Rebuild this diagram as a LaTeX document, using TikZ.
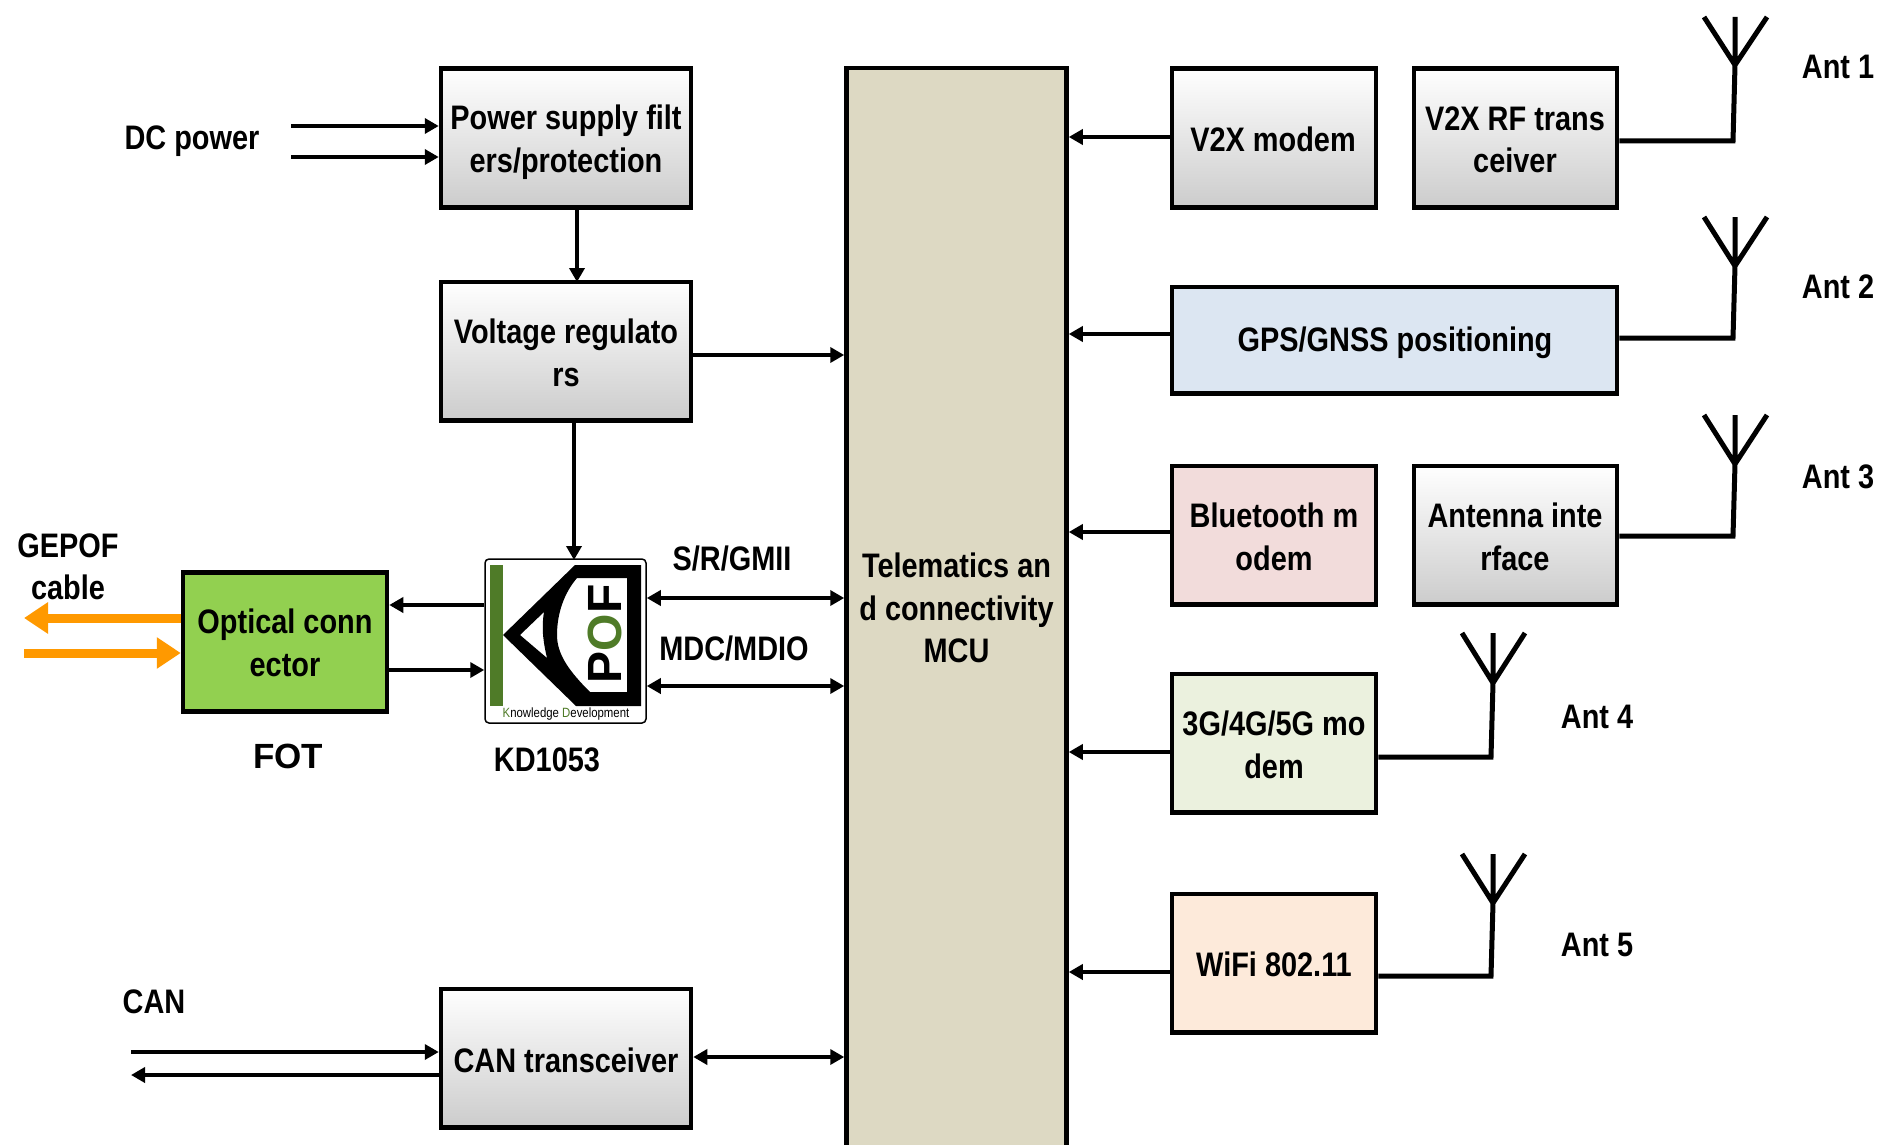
\documentclass[tikz,border=0pt]{standalone}
\usepackage{fontspec}
\setmainfont[FakeStretch=0.85]{Liberation Sans}
\newfontfamily\wide{Liberation Sans}
\usetikzlibrary{arrows.meta}
\definecolor{mcuc}{HTML}{DDD9C3}
\definecolor{gpsc}{HTML}{DCE6F2}
\definecolor{btc}{HTML}{F2DCDB}
\definecolor{cellc}{HTML}{EBF1DE}
\definecolor{wifc}{HTML}{FDEADA}
\definecolor{optc}{HTML}{92D050}
\definecolor{orangec}{HTML}{FF9900}
\definecolor{logog}{HTML}{4F7B28}
\tikzset{
  x=1pt,y=-1pt,
  txt/.style={font=\fontsize{34}{42.5}\selectfont\bfseries,align=center,inner sep=0pt},
  blk/.style={draw=black,line width=4.5pt,minimum width=#1,inner sep=0pt,txt},
  gbox/.style={blk=#1,top color=white,bottom color=black!20},
  conn/.style={line width=4.2pt,-{Triangle[length=14pt,width=15pt]}},
  dconn/.style={line width=4.2pt,{Triangle[length=14pt,width=15pt]}-{Triangle[length=14pt,width=15pt]}},
  ant/.style={line width=5pt},
  optic/.style={line width=9pt,orangec,-{Triangle[length=24pt,width=30pt]}},
}
\begin{document}
\begin{tikzpicture}
\clip (0,0) rectangle (1880,1145);
\fill[white] (0,0) rectangle (1880,1145);
% boxes
\node[gbox=250pt,minimum height=138.5pt] (pw) at (566,138) {};
\node[gbox=250pt,minimum height=138.5pt] (vr) at (566,351) {};
\node[gbox=250pt,minimum height=138.5pt] (can) at (566,1058) {};
\node[blk=220pt,minimum height=1080pt,fill=mcuc] (mcu) at (956.5,608) {Telematics an\\d connectivity\\MCU};
\node[gbox=204pt,minimum height=138.5pt] (v2x) at (1274,138) {};
\node[gbox=203pt,minimum height=138.5pt] (rf) at (1515.5,138) {};
\node[blk=445pt,minimum height=106.5pt,fill=gpsc] (gps) at (1394.5,340) {};
\node[blk=204pt,minimum height=138.5pt,fill=btc] (bt) at (1274,535) {};
\node[gbox=203pt,minimum height=138.5pt] (ai) at (1515.5,535) {};
\node[blk=204pt,minimum height=138.5pt,fill=cellc] (cell) at (1274,743) {};
\node[blk=204pt,minimum height=138.5pt,fill=wifc] (wifi) at (1274,963) {};
\node[blk=204pt,minimum height=139pt,fill=optc] (opt) at (285,642) {};
% box texts
\node[txt] (pwt) at (566,142) {Power supply filt\\ers/protection};
\node[txt] (vrt) at (566,353) {Voltage regulato\\rs};
\node[txt] (cant) at (566,1060) {CAN transceiver};
\node[txt] (v2xt) at (1273,139) {V2X modem};
\node[txt] (rft) at (1515,140) {V2X RF trans\\ceiver};
\node[txt] (gpst) at (1395,343) {GPS/GNSS positioning};
\node[txt] (btt) at (1274,537) {Bluetooth m\\odem};
\node[txt] (ait) at (1515,537) {Antenna inte\\rface};
\node[txt] (cellt) at (1274,745) {3G/4G/5G mo\\dem};
\node[txt] (wifit) at (1274,964) {WiFi 802.11};
\node[txt] (optt) at (285,643) {Optical conn\\ector};
% KD logo
\node[draw=black,line width=1.5pt,rounded corners=4pt,fill=white,minimum width=161pt,minimum height=164pt,inner sep=0pt] (kd) at (565.5,641) {};
\fill[logog] (490,565) rectangle (503,706);
\fill[black,even odd rule] (503,635) -- (575,565) -- (641,565) -- (641,706) -- (576,706) -- cycle
  (520,635) -- (544,612) .. controls (541,630) and (544,645) .. (547,658) -- cycle
  (577,578) -- (627,578) -- (627,692) -- (590,692) .. controls (570,672) and (557,655) .. (557,635) .. controls (557,612) and (565,592) .. (577,578) -- cycle;
\node[rotate=90,inner sep=0pt,font=\wide\fontsize{48}{50}\selectfont\bfseries] (pof) at (605,634) {P\textcolor{logog}{O}F};
\node[inner sep=0pt,font=\fontsize{13.4}{16}\selectfont] (kdt) at (566,714) {\textcolor{logog}{K}nowledge \textcolor{logog}{D}evelopment};
% labels
\node[txt] (dc) at (192,141) {DC power};
\node[txt,align=center] (gep) at (68,567) {GEPOF\\cable};
\node[inner sep=0pt,font=\wide\fontsize{35}{36}\selectfont\bfseries] (fot) at (288,756) {FOT};
\node[txt] (kdn) at (547,760) {KD1053};
\node[txt] (sr) at (732,559) {S/R/GMII};
\node[txt] (mdc) at (734,649) {MDC/MDIO};
\node[txt] (canl) at (154,1002) {CAN};
\node[txt] (a1) at (1838,67) {Ant 1};
\node[txt] (a2) at (1838,287) {Ant 2};
\node[txt] (a3) at (1838,477) {Ant 3};
\node[txt] (a4) at (1597,717) {Ant 4};
\node[txt] (a5) at (1597,945) {Ant 5};
% free ends
\coordinate (dc1) at (291,126);
\coordinate (dc2) at (291,157);
\coordinate (can1) at (131,1052);
\coordinate (can2) at (131,1075);
\coordinate (o1) at (24,618);
\coordinate (o2) at (24,653);
% connectors
\draw[conn] (dc1) -- (dc1 -| pw.west);
\draw[conn] (dc2) -- (dc2 -| pw.west);
\draw[conn] (577,207) -- (577,282);
\draw[conn] (vr.east |- 0,355) -- (mcu.west |- 0,355);
\draw[conn] (574,421) -- (574,560);
\draw[conn] (kd.west |- 0,605) -- (opt.east |- 0,605);
\draw[conn] (opt.east |- 0,670) -- (kd.west |- 0,670);
\draw[dconn] (kd.east |- 0,598) -- (mcu.west |- 0,598);
\draw[dconn] (kd.east |- 0,686) -- (mcu.west |- 0,686);
\draw[dconn] (can.east |- 0,1057) -- (mcu.west |- 0,1057);
\draw[conn] (can1) -- (can1 -| can.west);
\draw[conn] (can2 -| can.west) -- (can2);
\draw[optic] (opt.west |- o1) -- (o1);
\draw[optic] (o2) -- (opt.west |- o2);
\draw[conn] (v2x.west |- 0,137) -- (mcu.east |- 0,137);
\draw[conn] (gps.west |- 0,334) -- (mcu.east |- 0,334);
\draw[conn] (bt.west |- 0,532) -- (mcu.east |- 0,532);
\draw[conn] (cell.west |- 0,752) -- (mcu.east |- 0,752);
\draw[conn] (wifi.west |- 0,972) -- (mcu.east |- 0,972);
% antennas
\draw[ant] (rf.east |- 0,141) -- (1733,141) -- (1735,65) -- (1735,17) (1704,17) -- (1735,65) -- (1767,17);
\draw[ant] (gps.east |- 0,338) -- (1733,338) -- (1735,266) -- (1735,217) (1704,217) -- (1735,266) -- (1767,217);
\draw[ant] (ai.east |- 0,536) -- (1733,536) -- (1735,464) -- (1735,415) (1704,415) -- (1735,464) -- (1767,415);
\draw[ant] (cell.east |- 0,757) -- (1491,757) -- (1493,683) -- (1493,633) (1462,633) -- (1493,683) -- (1525,633);
\draw[ant] (wifi.east |- 0,976) -- (1491,976) -- (1493,903) -- (1493,854) (1462,854) -- (1493,903) -- (1525,854);
\end{tikzpicture}
\end{document}
